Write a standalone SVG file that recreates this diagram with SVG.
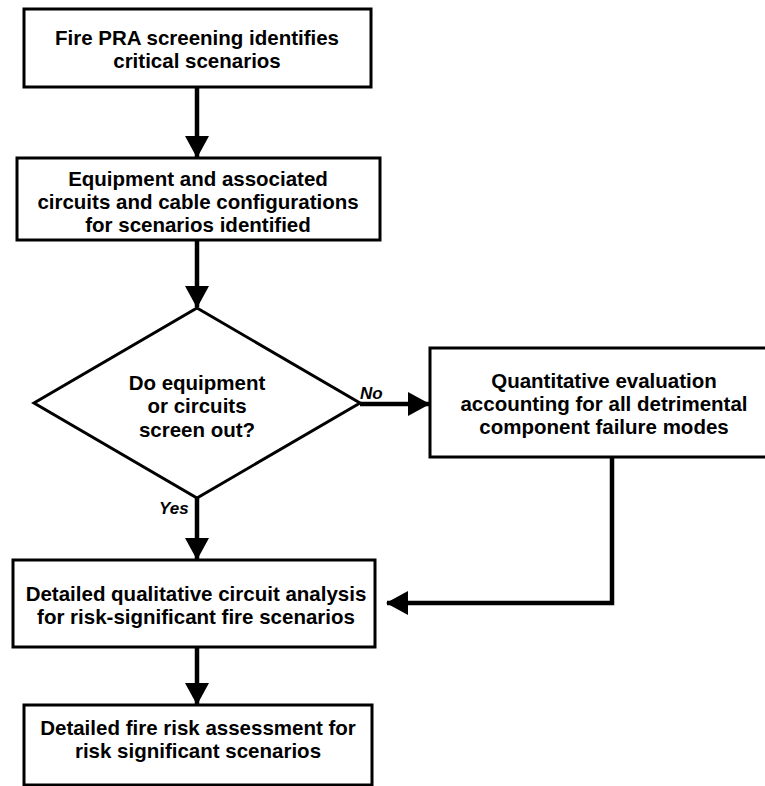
<svg xmlns="http://www.w3.org/2000/svg" width="765" height="786" viewBox="0 0 765 786">
<style>
.box{fill:#fff;stroke:#000;stroke-width:3}
.t{font-family:"Liberation Sans",Arial,sans-serif;font-weight:bold;font-size:20.5px;text-anchor:middle;fill:#000}
.lbl{font-family:"Liberation Sans",Arial,sans-serif;font-weight:bold;font-style:italic;font-size:17px;fill:#000}
.c{fill:none;stroke:#000;stroke-width:4.5}
</style>
<defs>
<marker id="ah" markerUnits="userSpaceOnUse" markerWidth="22" markerHeight="24" refX="21" refY="12" orient="auto">
<path d="M0,0 L22,12 L0,24 z" fill="#000"/>
</marker>
</defs>
<rect width="765" height="786" fill="#fff"/>
<g id="connectors">
<line class="c" x1="197" y1="87" x2="197" y2="157" marker-end="url(#ah)"/>
<line class="c" x1="197" y1="240" x2="197" y2="307" marker-end="url(#ah)"/>
<line class="c" x1="360" y1="404" x2="429" y2="404" marker-end="url(#ah)"/>
<line class="c" x1="197" y1="498" x2="197" y2="559" marker-end="url(#ah)"/>
<polyline class="c" points="612,457 612,603 387,603" marker-end="url(#ah)"/>
<line class="c" x1="197" y1="647" x2="197" y2="704" marker-end="url(#ah)"/>
<text class="lbl" x="360" y="399">No</text>
<text class="lbl" x="159" y="514">Yes</text>
</g>
<g id="n1">
<rect class="box" x="24" y="9" width="347" height="78"/>
<text class="t" x="197" y="45">Fire PRA screening identifies</text>
<text class="t" x="197" y="68">critical scenarios</text>
</g>
<g id="n2">
<rect class="box" x="17" y="158" width="363" height="82"/>
<text class="t" x="198" y="186">Equipment and associated</text>
<text class="t" x="198" y="209">circuits and cable configurations</text>
<text class="t" x="198" y="232">for scenarios identified</text>
</g>
<g id="n3">
<polygon class="box" points="197,308 360,403 197,498 34,403"/>
<text class="t" x="197" y="390">Do equipment</text>
<text class="t" x="197" y="413">or circuits</text>
<text class="t" x="197" y="437">screen out?</text>
</g>
<g id="n4">
<rect class="box" x="430" y="348" width="345" height="109"/>
<text class="t" x="604" y="388">Quantitative evaluation</text>
<text class="t" x="604" y="411">accounting for all detrimental</text>
<text class="t" x="604" y="434">component failure modes</text>
</g>
<g id="n5">
<rect class="box" x="13" y="560" width="362" height="87"/>
<text class="t" x="196" y="601">Detailed qualitative circuit analysis</text>
<text class="t" x="196" y="624">for risk-significant fire scenarios</text>
</g>
<g id="n6">
<rect class="box" x="24" y="705" width="348" height="80"/>
<text class="t" x="198" y="735">Detailed fire risk assessment for</text>
<text class="t" x="198" y="758">risk significant scenarios</text>
</g>
</svg>
